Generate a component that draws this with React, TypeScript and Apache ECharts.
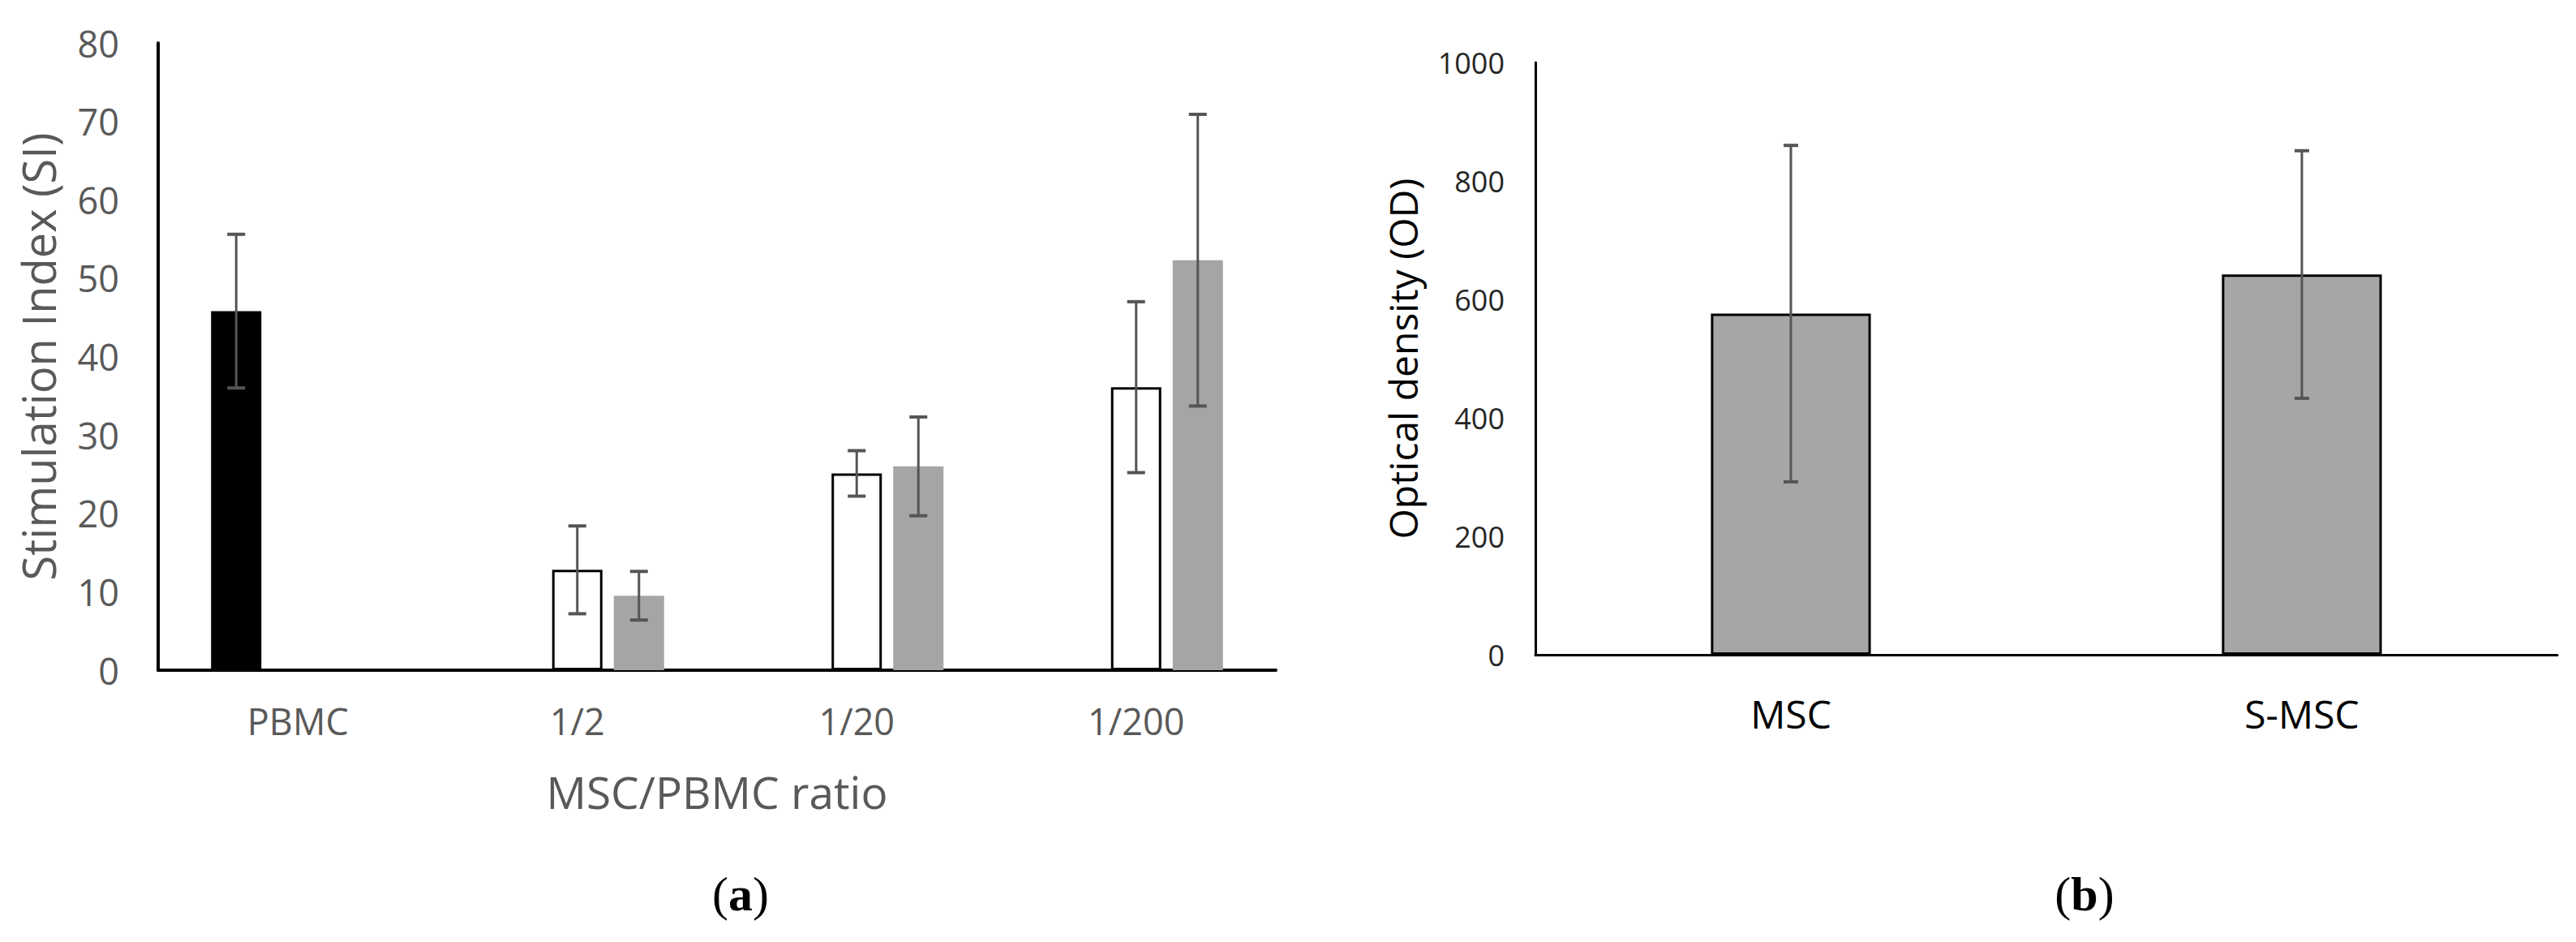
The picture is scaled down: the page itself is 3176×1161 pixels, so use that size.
import React, { useEffect, useRef } from "react";
import * as echarts from "echarts";

// ---- Panel (a) data ----
const ratioCategories = ["PBMC", "1/2", "1/20", "1/200"];
const pbmcMean = [45.8, null, null, null];
const pbmcErr = [9.8, null, null, null];
const mscMean = [null, 12.8, 25.1, 36.1];
const mscErr = [null, 5.6, 2.9, 10.9];
const smscMean = [null, 9.5, 26.0, 52.3];
const smscErr = [null, 3.1, 6.3, 18.6];
const siTicks = { min: 0, max: 80, interval: 10 };

// ---- Panel (b) data ----
const odCategories = ["MSC", "S-MSC"];
const odMean = [576, 642];
const odErr = [284, 209];
const odTicks = { min: 0, max: 1000, interval: 200 };

const BAR_FRAC_A = 0.18;
const GAP_FRAC_A = 0.226;
const ERR_COLOR = "#555555";
const FONT = "'Open Sans', 'Noto Sans', sans-serif";

function errData(means: (number | null)[], errs: (number | null)[]) {
  const out: any[] = [];
  means.forEach((m, i) => {
    if (m !== null && errs[i] !== null) out.push([i, m, errs[i]]);
  });
  return out;
}

function makeErrRender(slot: number, barFrac: number, gapFrac: number, cap: number, lw: number) {
  return (params: any, api: any) => {
    const x = api.value(0);
    const y = api.value(1);
    const e = api.value(2);
    const band = api.size([1, 0])[0];
    const bw = band * barFrac;
    const offset = slot * (bw + bw * gapFrac);
    const c = api.coord([x, y]);
    const cx = c[0] + offset;
    const top = api.coord([x, y + e])[1];
    const bot = api.coord([x, y - e])[1];
    const style = { stroke: ERR_COLOR, lineWidth: lw };
    return {
      type: "group",
      children: [
        { type: "line", shape: { x1: cx, y1: top, x2: cx, y2: bot }, style },
        { type: "line", shape: { x1: cx - cap / 2, y1: top, x2: cx + cap / 2, y2: top }, style: { stroke: ERR_COLOR, lineWidth: lw + 1 } },
        { type: "line", shape: { x1: cx - cap / 2, y1: bot, x2: cx + cap / 2, y2: bot }, style: { stroke: ERR_COLOR, lineWidth: lw + 1 } },
      ],
    };
  };
}

export default function App() {
  const ref = useRef<HTMLDivElement>(null);
  useEffect(() => {
    if (!ref.current) return;
    const chart = echarts.init(ref.current, null, { renderer: "svg" });
    const serifRich = {
      p: { fontFamily: "'Liberation Serif', serif", fontSize: 60, fill: "#000" },
      b: { fontFamily: "'Liberation Serif', serif", fontSize: 60, fontWeight: "bold", fill: "#000" },
    };
    const option: any = {
      animation: false,
      backgroundColor: "#ffffff",
      grid: [
        { left: 195, top: 53, width: 1378, height: 773 },
        { left: 1893, top: 77, width: 1260, height: 730 },
      ],
      xAxis: [
        {
          type: "category",
          gridIndex: 0,
          data: ratioCategories,
          axisLine: { show: true, lineStyle: { color: "#000", width: 4 } },
          axisTick: { show: false },
          axisLabel: { color: "#595959", fontFamily: FONT, fontSize: 45, margin: 40 },
          name: "MSC/PBMC ratio",
          nameLocation: "middle",
          nameGap: 122,
          nameTextStyle: { color: "#595959", fontFamily: FONT, fontSize: 55 },
        },
        {
          type: "category",
          gridIndex: 1,
          data: odCategories,
          axisLine: { show: true, lineStyle: { color: "#000", width: 3 } },
          axisTick: { show: false },
          axisLabel: { color: "#000", fontFamily: FONT, fontSize: 48, margin: 48 },
        },
      ],
      yAxis: [
        {
          type: "value",
          gridIndex: 0,
          min: siTicks.min,
          max: siTicks.max,
          interval: siTicks.interval,
          splitLine: { show: false },
          axisTick: { show: false },
          axisLine: { show: true, lineStyle: { color: "#000", width: 4 } },
          axisLabel: { color: "#595959", fontFamily: FONT, fontSize: 45, margin: 48 },
          name: "Stimulation Index (SI)",
          nameLocation: "middle",
          nameGap: 120,
          nameTextStyle: { color: "#595959", fontFamily: FONT, fontSize: 56 },
        },
        {
          type: "value",
          gridIndex: 1,
          min: odTicks.min,
          max: odTicks.max,
          interval: odTicks.interval,
          splitLine: { show: false },
          axisTick: { show: false },
          axisLine: { show: true, lineStyle: { color: "#000", width: 3 } },
          axisLabel: {
            color: "#262626",
            fontFamily: FONT,
            fontSize: 36,
            margin: 38,
            formatter: (v: number) => String(v),
          },
          name: "Optical density (OD)",
          nameLocation: "middle",
          nameGap: 140,
          nameTextStyle: { color: "#000", fontFamily: FONT, fontSize: 48 },
        },
      ],
      series: [
        {
          name: "PBMC",
          type: "bar",
          xAxisIndex: 0,
          yAxisIndex: 0,
          data: pbmcMean,
          barWidth: BAR_FRAC_A * 100 + "%",
          barGap: GAP_FRAC_A * 100 + "%",
          itemStyle: { color: "#000" },
        },
        {
          name: "MSC",
          type: "bar",
          xAxisIndex: 0,
          yAxisIndex: 0,
          data: mscMean,
          barWidth: BAR_FRAC_A * 100 + "%",
          barGap: GAP_FRAC_A * 100 + "%",
          itemStyle: { color: "#fff", borderColor: "#000", borderWidth: 3 },
        },
        {
          name: "S-MSC",
          type: "bar",
          xAxisIndex: 0,
          yAxisIndex: 0,
          data: smscMean,
          barWidth: BAR_FRAC_A * 100 + "%",
          barGap: GAP_FRAC_A * 100 + "%",
          itemStyle: { color: "#a5a5a5" },
        },
        {
          type: "custom",
          xAxisIndex: 0,
          yAxisIndex: 0,
          data: errData(pbmcMean, pbmcErr),
          encode: { x: 0, y: 1 },
          z: 10,
          renderItem: makeErrRender(-1, BAR_FRAC_A, GAP_FRAC_A, 22, 3),
        },
        {
          type: "custom",
          xAxisIndex: 0,
          yAxisIndex: 0,
          data: errData(mscMean, mscErr),
          encode: { x: 0, y: 1 },
          z: 10,
          renderItem: makeErrRender(0, BAR_FRAC_A, GAP_FRAC_A, 22, 3),
        },
        {
          type: "custom",
          xAxisIndex: 0,
          yAxisIndex: 0,
          data: errData(smscMean, smscErr),
          encode: { x: 0, y: 1 },
          z: 10,
          renderItem: makeErrRender(1, BAR_FRAC_A, GAP_FRAC_A, 22, 3),
        },
        {
          name: "OD",
          type: "bar",
          xAxisIndex: 1,
          yAxisIndex: 1,
          data: odMean,
          barWidth: "31.3%",
          itemStyle: { color: "#a6a6a6", borderColor: "#000", borderWidth: 3 },
        },
        {
          type: "custom",
          xAxisIndex: 1,
          yAxisIndex: 1,
          data: errData(odMean, odErr),
          encode: { x: 0, y: 1 },
          z: 10,
          renderItem: makeErrRender(0, 0.313, 0, 18, 3),
        },
      ],
      graphic: [
        {
          type: "text",
          x: 913,
          y: 1102,
          style: { text: "{p|(}{b|a}{p|)}", align: "center", verticalAlign: "middle", rich: serifRich },
        },
        {
          type: "text",
          x: 2570,
          y: 1102,
          style: { text: "{p|(}{b|b}{p|)}", align: "center", verticalAlign: "middle", rich: serifRich },
        },
      ],
    };
    chart.setOption(option);
    return () => chart.dispose();
  }, []);
  return (
    <div
      ref={ref}
      style={{ position: "fixed", left: 0, top: 0, width: 3176, height: 1161, background: "#fff" }}
    />
  );
}
